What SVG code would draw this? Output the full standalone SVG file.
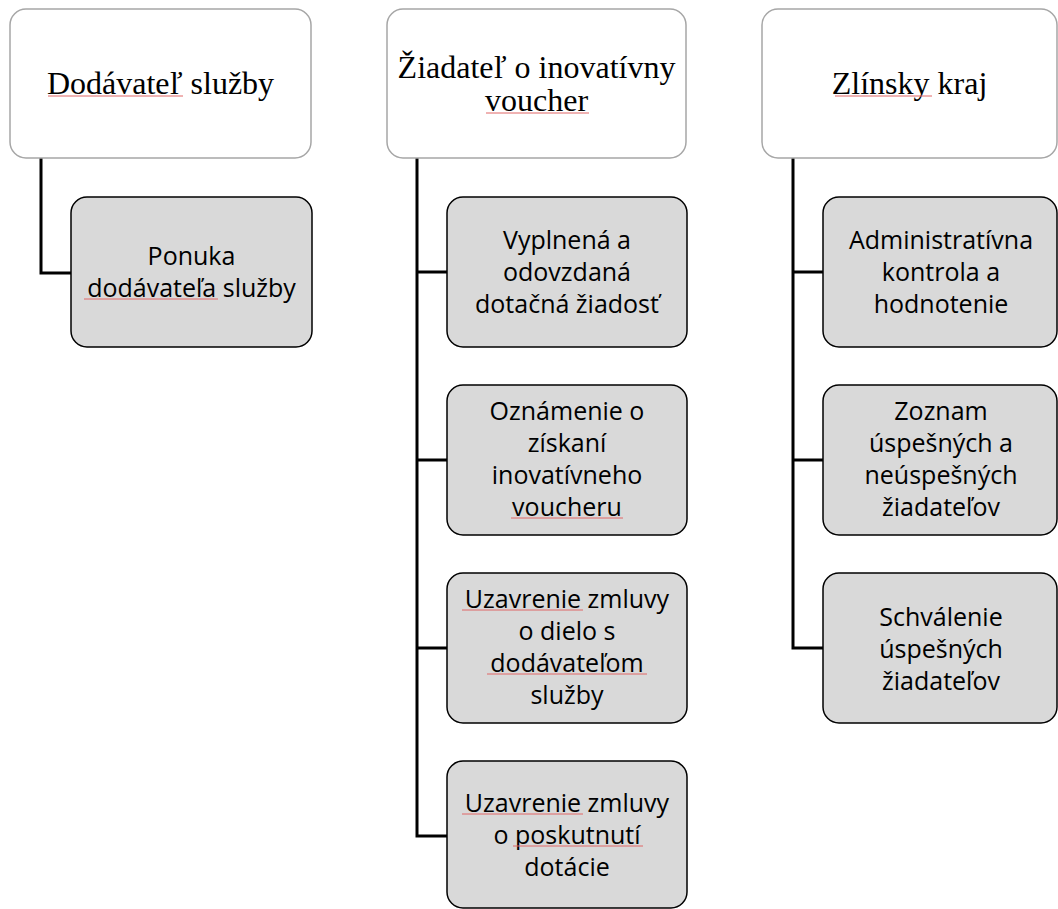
<svg xmlns="http://www.w3.org/2000/svg" width="1058" height="909" viewBox="0 0 1058 909">
<style>
.hdr{fill:#ffffff;stroke:#a6a6a6;stroke-width:1.5}
.box{fill:#d9d9d9;stroke:#000000;stroke-width:1.5}
.ht{font-family:"Liberation Serif","Times New Roman",serif;font-size:32px;fill:#000;text-anchor:middle}
.bt{font-family:"Open Sans","Liberation Sans",sans-serif;font-size:25px;fill:#000;text-anchor:middle}
.con{fill:none;stroke:#000;stroke-width:3}
.sp{stroke:#e06666;stroke-width:1;fill:none}
</style>
<rect width="1058" height="909" fill="#ffffff"/>
<g id="connectors">
<path class="con" d="M41,158 V273 H71"/>
<path class="con" d="M417,158 V836 H447 M417,272 H447 M417,460 H447 M417,648 H447"/>
<path class="con" d="M793,158 V648 H823 M793,272 H823 M793,460 H823"/>
</g>
<g id="dodavatel">
<rect class="hdr" x="10" y="9" width="301" height="149" rx="16"/>
<text class="ht" x="160.5" y="94">Dodávateľ služby</text>
<line class="sp" x1="48" y1="96" x2="183" y2="96"/>
</g>
<g id="ziadatel">
<rect class="hdr" x="387" y="9" width="299" height="149" rx="16"/>
<text class="ht" x="536.5" y="78">Žiadateľ o inovatívny</text>
<text class="ht" x="536.5" y="111">voucher</text>
<line class="sp" x1="486" y1="113" x2="589" y2="113"/>
</g>
<g id="zlinsky">
<rect class="hdr" x="762" y="9" width="295" height="149" rx="16"/>
<text class="ht" x="909.5" y="94">Zlínsky kraj</text>
<line class="sp" x1="835" y1="96" x2="932" y2="96"/>
</g>
<g id="ponuka">
<rect class="box" x="71" y="197" width="241" height="150" rx="16"/>
<text class="bt" x="191.5" y="265">Ponuka</text>
<text class="bt" x="191.5" y="297">dodávateľa služby</text>
<line class="sp" x1="84" y1="299" x2="218" y2="299"/>
</g>
<g id="vyplnena">
<rect class="box" x="447" y="197" width="240" height="150" rx="16"/>
<text class="bt" x="567" y="249">Vyplnená a</text>
<text class="bt" x="567" y="281">odovzdaná</text>
<text class="bt" x="567" y="313">dotačná žiadosť</text>
</g>
<g id="oznamenie">
<rect class="box" x="447" y="385" width="240" height="150" rx="16"/>
<text class="bt" x="567" y="420">Oznámenie o</text>
<text class="bt" x="567" y="452">získaní</text>
<text class="bt" x="567" y="484">inovatívneho</text>
<text class="bt" x="567" y="516">voucheru</text>
<line class="sp" x1="511" y1="518" x2="623" y2="518"/>
</g>
<g id="zmluva-dielo">
<rect class="box" x="447" y="573" width="240" height="150" rx="16"/>
<text class="bt" x="567" y="608">Uzavrenie zmluvy</text>
<text class="bt" x="567" y="640">o dielo s</text>
<text class="bt" x="567" y="672">dodávateľom</text>
<text class="bt" x="567" y="704">služby</text>
<line class="sp" x1="462" y1="610" x2="583" y2="610"/>
<line class="sp" x1="487" y1="674" x2="647" y2="674"/>
</g>
<g id="zmluva-dotacia">
<rect class="box" x="447" y="761" width="240" height="147" rx="16"/>
<text class="bt" x="567" y="812">Uzavrenie zmluvy</text>
<text class="bt" x="567" y="844">o poskutnutí</text>
<text class="bt" x="567" y="876">dotácie</text>
<line class="sp" x1="462" y1="814" x2="583" y2="814"/>
<line class="sp" x1="513" y1="846" x2="643" y2="846"/>
</g>
<g id="administrativna">
<rect class="box" x="823" y="197" width="234" height="150" rx="16"/>
<text class="bt" x="941" y="249">Administratívna</text>
<text class="bt" x="941" y="281">kontrola a</text>
<text class="bt" x="941" y="313">hodnotenie</text>
</g>
<g id="zoznam">
<rect class="box" x="823" y="385" width="234" height="150" rx="16"/>
<text class="bt" x="941" y="420">Zoznam</text>
<text class="bt" x="941" y="452">úspešných a</text>
<text class="bt" x="941" y="484">neúspešných</text>
<text class="bt" x="941" y="516">žiadateľov</text>
</g>
<g id="schvalenie">
<rect class="box" x="823" y="573" width="234" height="150" rx="16"/>
<text class="bt" x="941" y="626">Schválenie</text>
<text class="bt" x="941" y="658">úspešných</text>
<text class="bt" x="941" y="690">žiadateľov</text>
</g>
</svg>
